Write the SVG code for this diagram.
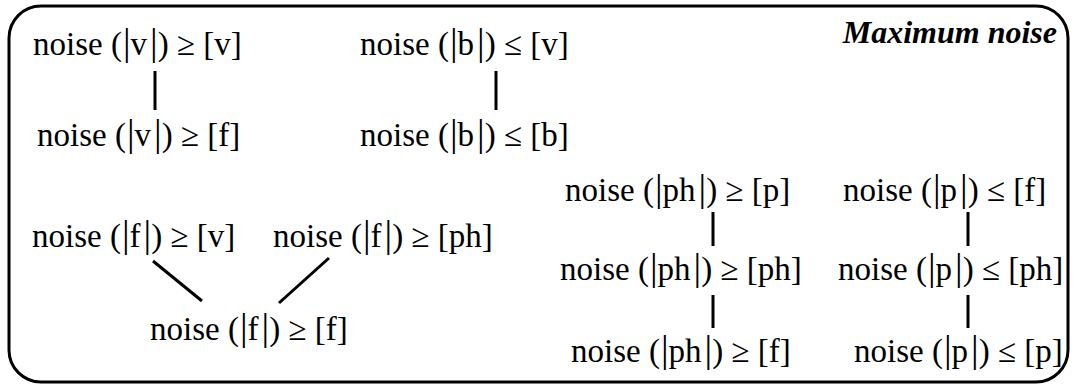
<svg xmlns="http://www.w3.org/2000/svg" width="1074" height="387" viewBox="0 0 1074 387">
<style>
text{font-family:"Liberation Serif","Times New Roman",serif;font-size:33px;fill:#000}
.b{font-size:38px}
.t{font-weight:bold;font-style:italic;font-size:32px}
.c line{stroke:#000;stroke-width:3}
</style>
<rect x="9" y="6" width="1059" height="376" rx="32" ry="32" fill="#fff" stroke="#000" stroke-width="3"/>
<text class="t" x="1057" y="43" text-anchor="end">Maximum noise</text>
<g id="v1"><text x="33" y="55">noise (<tspan class="b" dx="1">|</tspan>v<tspan class="b" dx="3">|</tspan>) ≥ [v]</text></g>
<g id="v2"><text x="37" y="146">noise (<tspan class="b" dx="1">|</tspan>v<tspan class="b" dx="3">|</tspan>) ≥ [f]</text></g>
<g id="b1"><text x="360" y="55">noise (<tspan class="b" dx="1">|</tspan>b<tspan class="b" dx="3">|</tspan>) ≤ [v]</text></g>
<g id="b2"><text x="360" y="146">noise (<tspan class="b" dx="1">|</tspan>b<tspan class="b" dx="3">|</tspan>) ≤ [b]</text></g>
<g id="f1"><text x="32" y="247">noise (<tspan class="b" dx="1">|</tspan>f<tspan class="b" dx="3">|</tspan>) ≥ [v]</text></g>
<g id="f2"><text x="273" y="247">noise (<tspan class="b" dx="1">|</tspan>f<tspan class="b" dx="3">|</tspan>) ≥ [ph]</text></g>
<g id="f3"><text x="150" y="340">noise (<tspan class="b" dx="1">|</tspan>f<tspan class="b" dx="3">|</tspan>) ≥ [f]</text></g>
<g id="ph1"><text x="565" y="201">noise (<tspan class="b" dx="1">|</tspan>ph<tspan class="b" dx="3">|</tspan>) ≥ [p]</text></g>
<g id="ph2"><text x="560" y="280">noise (<tspan class="b" dx="1">|</tspan>ph<tspan class="b" dx="3">|</tspan>) ≥ [ph]</text></g>
<g id="ph3"><text x="571" y="362">noise (<tspan class="b" dx="1">|</tspan>ph<tspan class="b" dx="3">|</tspan>) ≥ [f]</text></g>
<g id="p1"><text x="843" y="201">noise (<tspan class="b" dx="1">|</tspan>p<tspan class="b" dx="3">|</tspan>) ≤ [f]</text></g>
<g id="p2"><text x="838" y="280">noise (<tspan class="b" dx="1">|</tspan>p<tspan class="b" dx="3">|</tspan>) ≤ [ph]</text></g>
<g id="p3"><text x="854" y="362">noise (<tspan class="b" dx="1">|</tspan>p<tspan class="b" dx="3">|</tspan>) ≤ [p]</text></g>
<g class="c" id="connectors">
<line x1="155" y1="71" x2="155" y2="110"/>
<line x1="496" y1="71" x2="496" y2="110"/>
<line x1="153" y1="261" x2="202" y2="301"/>
<line x1="329" y1="258" x2="279" y2="303"/>
<line x1="713" y1="212" x2="713" y2="246"/>
<line x1="713" y1="295" x2="713" y2="328"/>
<line x1="968" y1="212" x2="968" y2="246"/>
<line x1="968" y1="295" x2="968" y2="328"/>
</g>
</svg>
